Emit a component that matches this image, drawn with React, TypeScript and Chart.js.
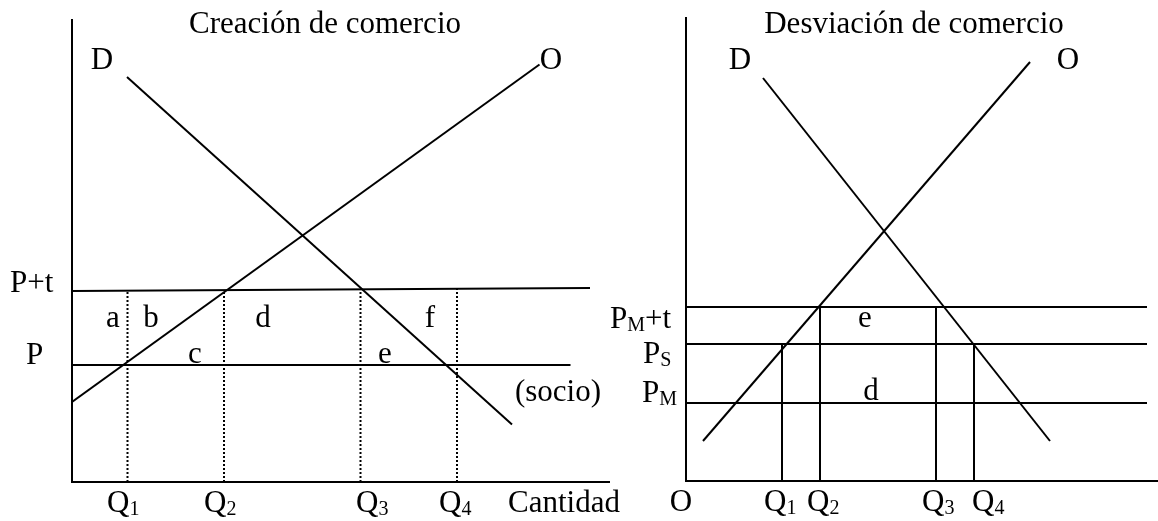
import React, { useEffect, useRef } from "react";
import { Chart, registerables } from "chart.js";

Chart.register(...registerables);

const FONT_FAMILY = "'Liberation Serif', 'Times New Roman', Times, serif";
const MAIN_SIZE = 31;
const SUB_SIZE = 20;

// ---------- Left panel: Creación de comercio ----------
const leftAxisMax = [107.4, 92.4];
const leftSupplyX = [0, 93.5];
const leftSupplyY = [16, 83.5];
const leftDemandX = [11, 88];
const leftDemandY = [81, 11.5];
const leftTariffX = [0, 103.6];
const leftTariffY = [38.2, 38.8];
const leftPriceX = [0, 99.7];
const leftPriceY = [23.4, 23.4];
const leftQ = [11.1, 30.4, 57.7, 77];
const leftQTop = [38.3, 38.4, 38.5, 38.6];

type Label = { t: string; s?: string; p?: string; x: number; y: number; a: "left" | "center" };

const leftLabels: Label[] = [
  { t: "Creación de comercio", x: 50.6, y: 89.8, a: "center" },
  { t: "D", x: 6, y: 82.6, a: "center" },
  { t: "O", x: 95.8, y: 82.6, a: "center" },
  { t: "P+t", x: -12.4, y: 38, a: "left" },
  { t: "P", x: -7.5, y: 23.6, a: "center" },
  { t: "a", x: 8.2, y: 31, a: "center" },
  { t: "b", x: 15.8, y: 31, a: "center" },
  { t: "d", x: 38.2, y: 31, a: "center" },
  { t: "f", x: 71.6, y: 31, a: "center" },
  { t: "c", x: 24.6, y: 23.8, a: "center" },
  { t: "e", x: 62.6, y: 23.8, a: "center" },
  { t: "(socio)", x: 97.2, y: 16.2, a: "center" },
  { t: "Q", s: "1", x: 7, y: -6, a: "left" },
  { t: "Q", s: "2", x: 26.4, y: -6, a: "left" },
  { t: "Q", s: "3", x: 56.8, y: -6, a: "left" },
  { t: "Q", s: "4", x: 73.4, y: -6, a: "left" },
  { t: "Cantidad", x: 87.2, y: -6, a: "left" },
];

// ---------- Right panel: Desviación de comercio ----------
const rightAxisMax = [94.4, 92.6];
const rightSupplyX = [3.4, 68.8];
const rightSupplyY = [8, 83.8];
const rightDemandX = [15.4, 72.8];
const rightDemandY = [80.6, 8];
const rightPriceLevels = [34.8, 27.4, 15.6]; // P_M+t, P_S, P_M
const rightPriceEnd = 92.2;
const rightQ = [19.2, 26.8, 50, 57.6];
const rightQTop = [27.4, 34.8, 34.8, 27.4];

const rightLabels: Label[] = [
  { t: "Desviación de comercio", x: 45.6, y: 89.6, a: "center" },
  { t: "D", x: 10.8, y: 82.4, a: "center" },
  { t: "O", x: 76.4, y: 82.4, a: "center" },
  { t: "P", s: "M", p: "+t", x: -15.2, y: 30.6, a: "left" },
  { t: "P", s: "S", x: -8.6, y: 23.6, a: "left" },
  { t: "P", s: "M", x: -8.8, y: 15.8, a: "left" },
  { t: "e", x: 35.8, y: 30.8, a: "center" },
  { t: "d", x: 37, y: 16.2, a: "center" },
  { t: "O", x: -1, y: -6, a: "center" },
  { t: "Q", s: "1", x: 15.6, y: -6, a: "left" },
  { t: "Q", s: "2", x: 24.2, y: -6, a: "left" },
  { t: "Q", s: "3", x: 47.2, y: -6, a: "left" },
  { t: "Q", s: "4", x: 57.2, y: -6, a: "left" },
];

function seg(xs: number[], ys: number[], dashed = false, width = 2) {
  return {
    data: xs.map((x, i) => ({ x, y: ys[i] })),
    showLine: true,
    borderColor: "#000",
    backgroundColor: "#000",
    borderWidth: width,
    borderDash: dashed ? [2, 2] : [],
    pointRadius: 0,
    pointHoverRadius: 0,
    fill: false,
    tension: 0,
  };
}

function labelPlugin(items: Label[]) {
  return {
    id: "diagramLabels",
    afterDraw(chart: any) {
      const { ctx } = chart;
      const xs = chart.scales.x;
      const ys = chart.scales.y;
      ctx.save();
      ctx.fillStyle = "#000";
      ctx.textBaseline = "alphabetic";
      ctx.textAlign = "left";
      for (const it of items) {
        const px = xs.getPixelForValue(it.x);
        const py = ys.getPixelForValue(it.y);
        const main = `${MAIN_SIZE}px ${FONT_FAMILY}`;
        const sub = `${SUB_SIZE}px ${FONT_FAMILY}`;
        ctx.font = main;
        const w1 = ctx.measureText(it.t).width;
        ctx.font = sub;
        const w2 = it.s ? ctx.measureText(it.s).width : 0;
        ctx.font = main;
        const w3 = it.p ? ctx.measureText(it.p).width : 0;
        const total = w1 + w2 + w3;
        let x = it.a === "center" ? px - total / 2 : px;
        ctx.font = main;
        ctx.fillText(it.t, x, py);
        x += w1;
        if (it.s) {
          ctx.font = sub;
          ctx.fillText(it.s, x, py + 3);
          x += w2;
        }
        if (it.p) {
          ctx.font = main;
          ctx.fillText(it.p, x, py);
        }
      }
      ctx.restore();
    },
  };
}

function makeScales(maxX: number, maxY: number) {
  const common = {
    type: "linear" as const,
    min: 0,
    grid: { display: false, drawTicks: false },
    ticks: { display: false },
    title: { display: false },
    border: { display: true, color: "#000", width: 2 },
  };
  return {
    x: { ...common, max: maxX, position: "bottom" as const },
    y: { ...common, max: maxY, position: "left" as const },
  };
}

const LEFT_W = 640;
const RIGHT_X = 590;
const RIGHT_W = 1158 - RIGHT_X;

export default function App() {
  const leftRef = useRef<HTMLCanvasElement | null>(null);
  const rightRef = useRef<HTMLCanvasElement | null>(null);

  useEffect(() => {
    if (!leftRef.current || !rightRef.current) return;

    const leftDatasets = [
      seg(leftSupplyX, leftSupplyY),
      seg(leftDemandX, leftDemandY),
      seg(leftTariffX, leftTariffY),
      seg(leftPriceX, leftPriceY),
      ...leftQ.map((q, i) => seg([q, q], [0, leftQTop[i]], true, 2)),
    ];

    const rightDatasets = [
      seg(rightSupplyX, rightSupplyY),
      seg(rightDemandX, rightDemandY),
      ...rightPriceLevels.map((p) => seg([0, rightPriceEnd], [p, p])),
      ...rightQ.map((q, i) => seg([q, q], [0, rightQTop[i]])),
    ];

    const baseOptions = (maxX: number, maxY: number, padding: any) => ({
      responsive: false,
      animation: false as const,
      events: [],
      layout: { padding },
      plugins: {
        legend: { display: false },
        title: { display: false },
        tooltip: { enabled: false },
      },
      scales: makeScales(maxX, maxY),
    });

    const leftChart = new Chart(leftRef.current, {
      type: "scatter",
      data: { datasets: leftDatasets as any },
      options: baseOptions(leftAxisMax[0], leftAxisMax[1], {
        left: 72,
        top: 20,
        right: LEFT_W - (72 + leftAxisMax[0] * 5),
        bottom: 39,
      }) as any,
      plugins: [labelPlugin(leftLabels)],
    });

    const rightChart = new Chart(rightRef.current, {
      type: "scatter",
      data: { datasets: rightDatasets as any },
      options: baseOptions(rightAxisMax[0], rightAxisMax[1], {
        left: 686 - RIGHT_X,
        top: 18,
        right: RIGHT_W - (686 - RIGHT_X + rightAxisMax[0] * 5),
        bottom: 40,
      }) as any,
      plugins: [labelPlugin(rightLabels)],
    });

    return () => {
      leftChart.destroy();
      rightChart.destroy();
    };
  }, []);

  return (
    <div style={{ position: "absolute", left: 0, top: 0, width: 1158, height: 521, background: "#fff" }}>
      <canvas
        ref={leftRef}
        width={LEFT_W}
        height={521}
        style={{ position: "absolute", left: 0, top: 0, width: LEFT_W, height: 521, display: "block" }}
      />
      <canvas
        ref={rightRef}
        width={RIGHT_W}
        height={521}
        style={{ position: "absolute", left: RIGHT_X, top: 0, width: RIGHT_W, height: 521, display: "block" }}
      />
    </div>
  );
}
